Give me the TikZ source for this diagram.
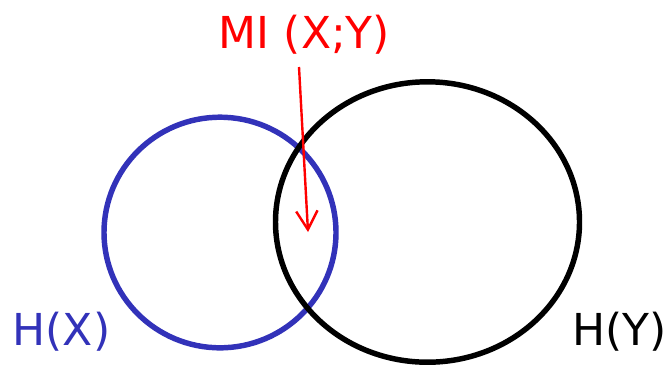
\documentclass[tikz,border=0pt]{standalone}
\usepackage{fontspec}
\setmainfont{DejaVu Sans}
\usetikzlibrary{arrows.meta, positioning}
\definecolor{entropyblue}{RGB}{50, 50, 185}
\definecolor{mired}{RGB}{255, 0, 0}

\begin{document}
\begin{tikzpicture}[x=0.75pt, y=-0.75pt,
    setline/.style={line width=4.1pt},
    setlabel/.style={inner sep=0pt, anchor=base, font=\fontsize{33}{40}\selectfont},
    miarrow/.style={mired, line width=1.8pt, -{Straight Barb[length=14pt, width=16pt, line width=1.8pt]}}]
    \useasboundingbox (0,0) rectangle (666,369);

    % Entropy sets
    \draw[setline, entropyblue] (220,232.5) ellipse [x radius=116, y radius=115.3];
    \draw[setline, black] (427.5,222) ellipse [x radius=152, y radius=140.2];

    % Labels
    \node[setlabel, entropyblue] (hx) at (61.5,345) {H(X)};
    \node[setlabel, black] (hy) at (619.5,345) {H(Y)};
    \node[setlabel, mired] (mi) at (304.5,48) {MI (X;Y)};

    % Pointer into the overlap
    \coordinate (mitail) at (299,67);
    \coordinate (mitip) at (308,232);
    \draw[miarrow] (mitail) -- (mitip);
\end{tikzpicture}
\end{document}
